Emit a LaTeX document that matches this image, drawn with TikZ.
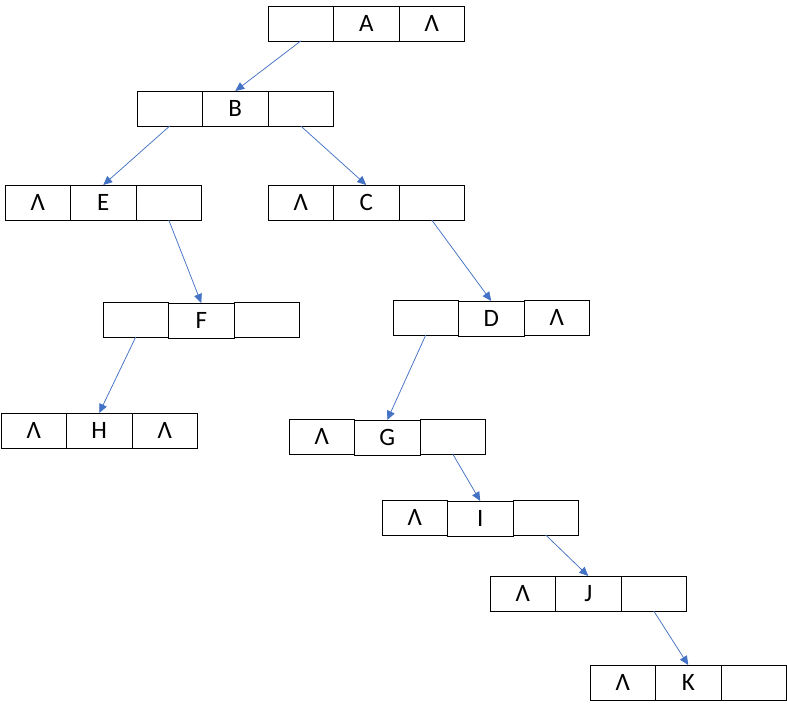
\documentclass[tikz,border=0pt]{standalone}
\usepackage{fontspec}
\setmainfont{Carlito}
\usetikzlibrary{positioning,arrows.meta}
\definecolor{ptrblue}{HTML}{4472C4}
\tikzset{
  cell/.style={draw,line width=1pt,minimum width=65.5pt,minimum height=35pt,inner sep=0pt,outer sep=0pt,font=\fontsize{25}{27}\selectfont},
  ptr/.style={ptrblue,line width=0.75pt,-{Triangle[length=9pt,width=8pt]}}
}

\begin{document}
\begin{tikzpicture}[x=1pt,y=-1pt]
\useasboundingbox (0,0) rectangle (787,712);
% nodes: left pointer, data, right pointer
\node[cell,anchor=north west] (aL) at (268,6) {};
\node[cell,right=0pt of aL] (aD) {A};
\node[cell,right=0pt of aD] (aR) {Λ};

\node[cell,anchor=north west] (bL) at (137,91) {};
\node[cell,right=0pt of bL] (bD) {B};
\node[cell,right=0pt of bD] (bR) {};

\node[cell,anchor=north west] (eL) at (5,185) {Λ};
\node[cell,right=0pt of eL] (eD) {E};
\node[cell,right=0pt of eD] (eR) {};

\node[cell,anchor=north west] (cL) at (268,185) {Λ};
\node[cell,right=0pt of cL] (cD) {C};
\node[cell,right=0pt of cD] (cR) {};

\node[cell,anchor=north west] (fL) at (103,302) {};
\node[cell,right=0pt of fL,yshift=-1pt] (fD) {F};
\node[cell,right=0pt of fD,yshift=1pt] (fR) {};

\node[cell,anchor=north west] (dL) at (393,300) {};
\node[cell,right=0pt of dL,yshift=-1pt] (dD) {D};
\node[cell,right=0pt of dD,yshift=1pt] (dR) {Λ};

\node[cell,anchor=north west] (hL) at (1,413) {Λ};
\node[cell,right=0pt of hL] (hD) {H};
\node[cell,right=0pt of hD] (hR) {Λ};

\node[cell,anchor=north west] (gL) at (289,419) {Λ};
\node[cell,right=0pt of gL,yshift=-1pt] (gD) {G};
\node[cell,right=0pt of gD,yshift=1pt] (gR) {};

\node[cell,anchor=north west] (iL) at (382,500) {Λ};
\node[cell,right=0pt of iL,yshift=-1pt] (iD) {I};
\node[cell,right=0pt of iD,yshift=1pt] (iR) {};

\node[cell,anchor=north west] (jL) at (490,576) {Λ};
\node[cell,right=0pt of jL] (jD) {J};
\node[cell,right=0pt of jD] (jR) {};

\node[cell,anchor=north west] (kL) at (590,665) {Λ};
\node[cell,right=0pt of kL] (kD) {K};
\node[cell,right=0pt of kD] (kR) {};

% pointers
\draw[ptr] (aL.south) -- (bD.north);
\draw[ptr] (bL.south) -- (eD.north);
\draw[ptr] (bR.south) -- (cD.north);
\draw[ptr] (eR.south) -- (fD.north);
\draw[ptr] (cR.south) -- (dD.north);
\draw[ptr] (fL.south) -- (hD.north);
\draw[ptr] (dL.south) -- (gD.north);
\draw[ptr] (gR.south) -- (iD.north);
\draw[ptr] (iR.south) -- (jD.north);
\draw[ptr] (jR.south) -- (kD.north);
\end{tikzpicture}
\end{document}
